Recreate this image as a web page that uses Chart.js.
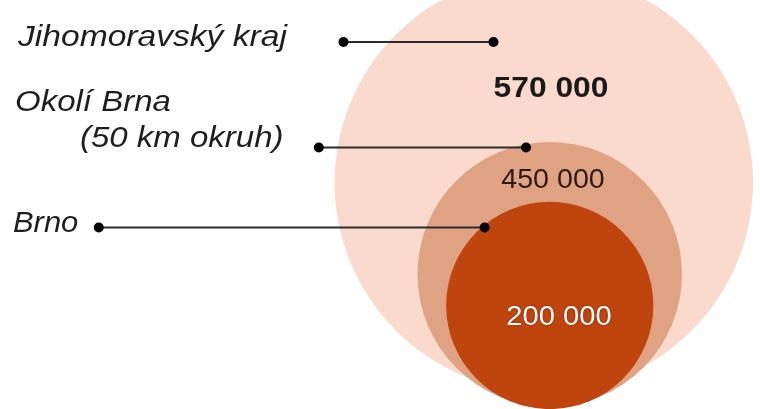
<!DOCTYPE html>
<html>
<head>
<meta charset="utf-8">
<script src="https://cdn.jsdelivr.net/npm/chart.js@4"></script>
<style>
  html, body { margin: 0; padding: 0; background: #ffffff; }
  #wrap { width: 760px; height: 409px; position: relative; }
</style>
</head>
<body>
<div id="wrap"><canvas id="myChart" width="760" height="409"></canvas></div>
<script>
// regions, biggest first (drawn first)
var regionNames = ["Jihomoravský kraj", "Okolí Brna (50 km okruh)", "Brno"];
var population = [570000, 450000, 200000];
var populationLabels = ["570 000", "450 000", "200 000"];
// circle centres and radii in chart units (1 unit = 10 px of the 76 x 40.9 plot)
var circleX = [54.6, 55.2, 55.2];
var circleY = [18.2, 27.6, 30.8];
var circleR = [21.2, 13.4, 10.5];
var circleColors = ["#f9dacc", "#dfa283", "#c0440e"];
// leader lines: start point at the label, end point on the circle
var leaderFromX = [34.3, 31.8, 9.5];
var leaderToX = [49.5, 52.8, 48.6];
var leaderY = [3.8, 14.6, 22.8];

window.onload = function () {
  var points = [];
  for (var i = 0; i < regionNames.length; i++) {
    points.push({ x: circleX[i], y: circleY[i] });
  }

  var datasets = [];
  for (var j = 0; j < leaderY.length; j++) {
    datasets.push({
      type: "line",
      label: "leader " + j,
      data: [
        { x: leaderFromX[j], y: leaderY[j] },
        { x: leaderToX[j], y: leaderY[j] },
      ],
      borderColor: "#2b2b2b",
      borderWidth: 2,
      pointRadius: 5,
      pointBackgroundColor: "#000000",
      pointBorderWidth: 0,
      order: 0,
      clip: false,
    });
  }
  datasets.push({
    type: "scatter",
    label: "Počet obyvatel",
    data: points,
    backgroundColor: circleColors,
    borderWidth: 0,
    pointRadius: function (ctx) {
      var s = ctx.chart.scales.x;
      return s.getPixelForValue(circleR[ctx.dataIndex]) - s.getPixelForValue(0);
    },
    order: 1,
    clip: false,
  });

  // texts: region names on the left, numbers inside the circles
  var textPlugin = {
    id: "texts",
    afterDatasetsDraw: function (chart) {
      var c = chart.ctx;
      function txt(s, x, y, font, color, stretch, align) {
        c.save();
        c.font = font;
        c.fillStyle = color;
        c.textAlign = align || "left";
        c.textBaseline = "alphabetic";
        c.translate(x, y);
        c.scale(stretch, 1);
        c.fillText(s, 0, 0);
        c.restore();
      }
      var lf = "italic 30px 'Liberation Sans', Arial, sans-serif";
      txt("Jihomoravský kraj", 18, 46, lf, "#1e1e1e", 1.12);
      txt("Okolí Brna", 15, 111, lf, "#1e1e1e", 1.1);
      txt("(50 km okruh)", 80, 147, lf, "#1e1e1e", 1.1);
      txt("Brno", 13, 232, lf, "#1e1e1e", 1.03);

      txt(populationLabels[0], 551, 97, "bold 30px 'Liberation Sans', Arial, sans-serif", "#1a1a1a", 1.06, "center");
      txt(populationLabels[1], 553, 188, "27px 'Liberation Sans', Arial, sans-serif", "#2e1a12", 1.06, "center");
      c.save();
      c.shadowColor = "rgba(60,20,0,0.6)";
      c.shadowBlur = 2;
      txt(populationLabels[2], 559, 325, "27px 'Liberation Sans', Arial, sans-serif", "#ffffff", 1.08, "center");
      c.restore();
    },
  };

  var ctx = document.getElementById("myChart").getContext("2d");
  new Chart(ctx, {
    data: { datasets: datasets },
    options: {
      responsive: false,
      animation: false,
      events: [],
      layout: { padding: 0 },
      plugins: { legend: { display: false }, tooltip: { enabled: false } },
      scales: {
        x: { type: "linear", display: false, min: 0, max: 76 },
        y: { type: "linear", display: false, min: 0, max: 40.9, reverse: true },
      },
    },
    plugins: [textPlugin],
  });
};
</script>
</body>
</html>
